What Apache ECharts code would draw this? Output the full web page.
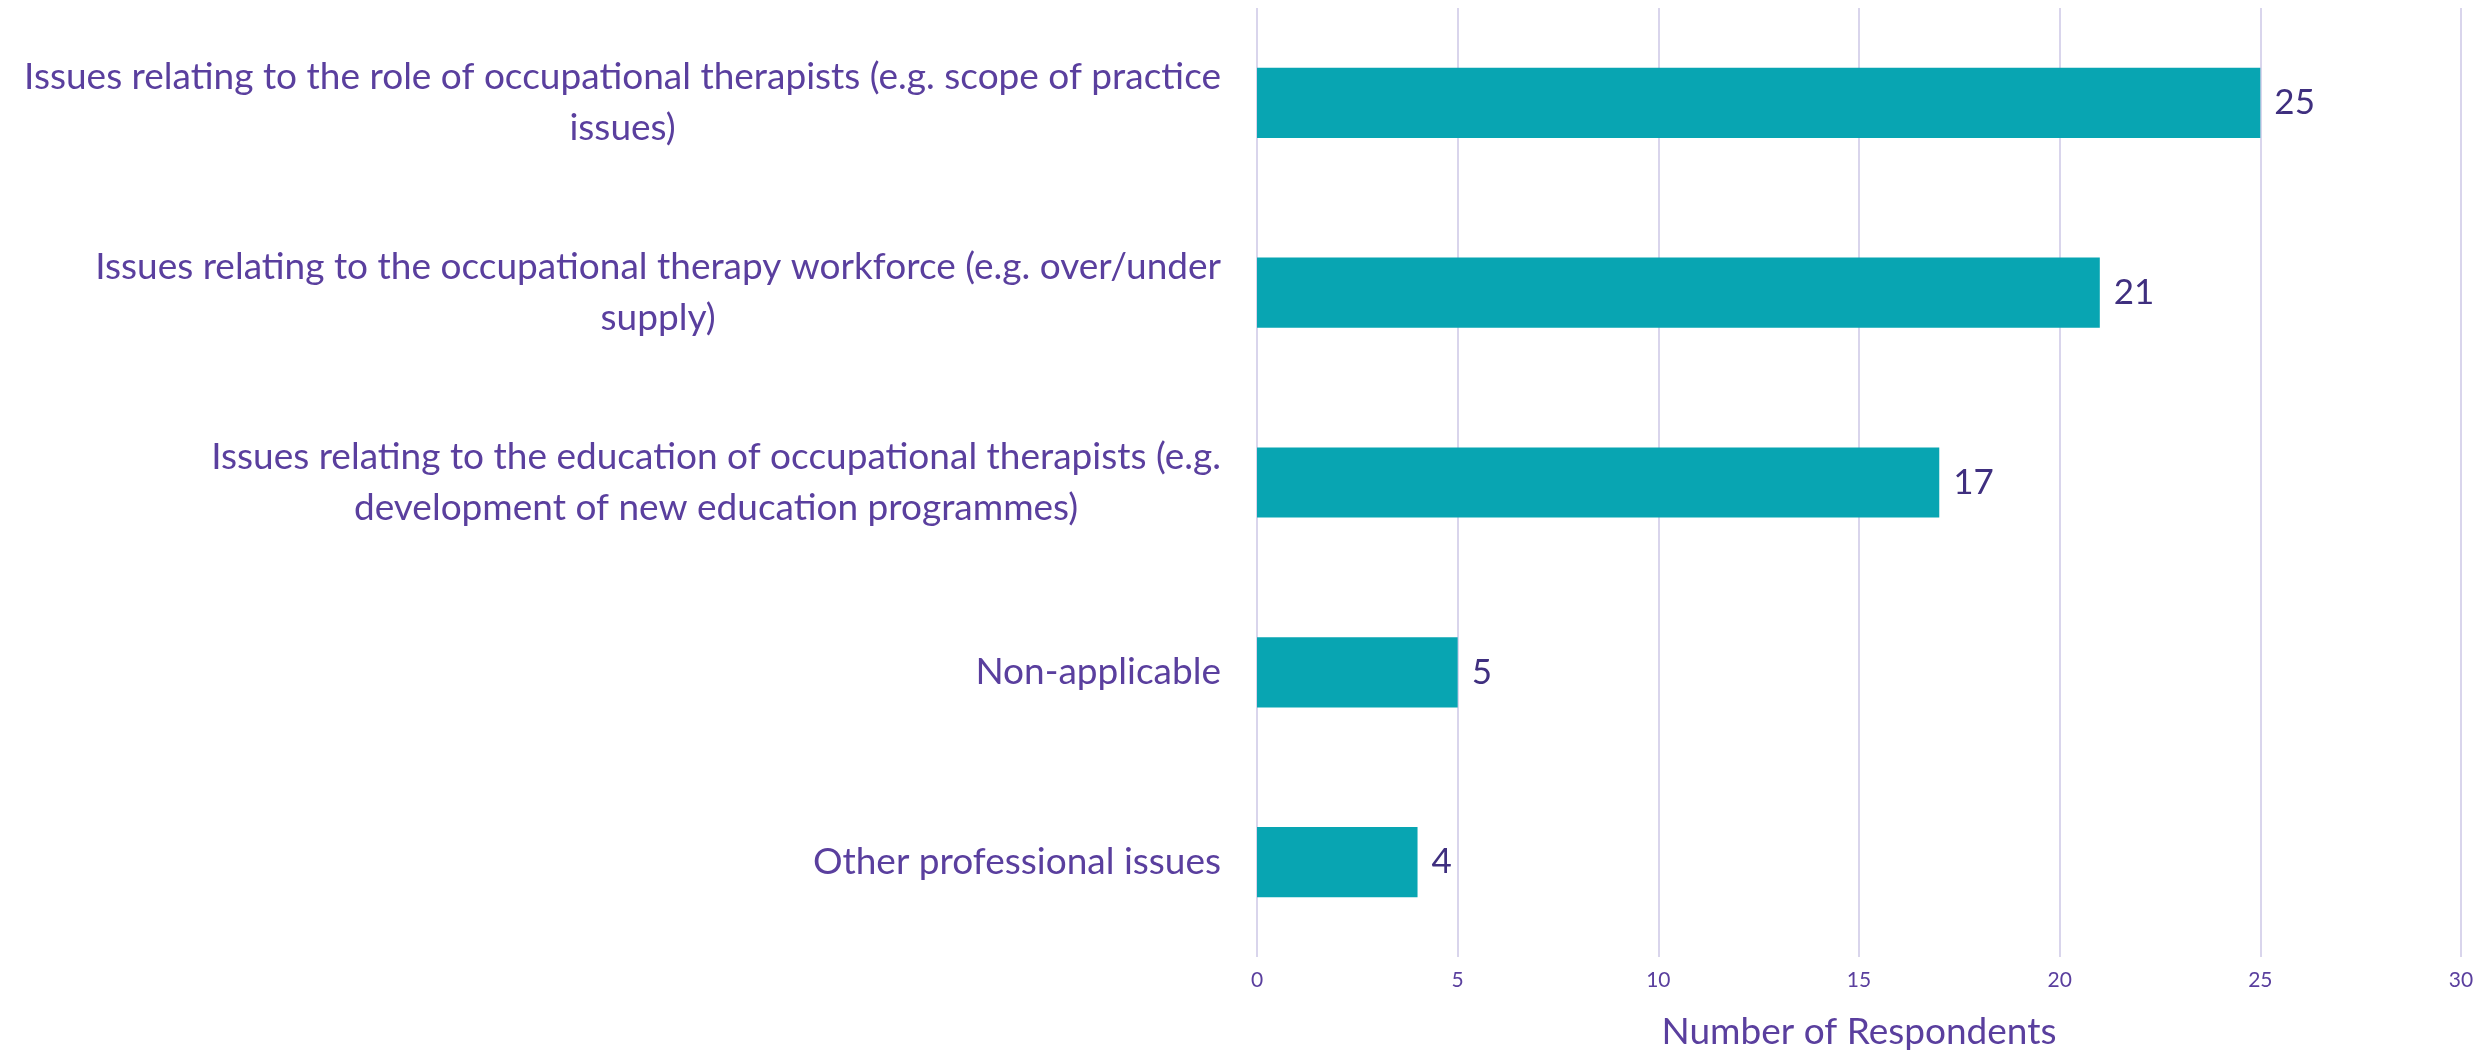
<!DOCTYPE html>
<html>
<head>
<meta charset="utf-8">
<script src="https://cdn.jsdelivr.net/npm/echarts@6/dist/echarts.min.js"></script>
<style>
  html, body { margin: 0; padding: 0; background: #fff; }
  #chart { width: 2483px; height: 1056px; }
</style>
</head>
<body>
<div id="chart"></div>
<script>
// categories, top to bottom (line breaks as in the original labels)
const categories = [
  "Issues relating to the role of occupational therapists (e.g. scope of practice\nissues)",
  "Issues relating to the occupational therapy workforce (e.g. over/under\nsupply)",
  "Issues relating to the education of occupational therapists (e.g.\ndevelopment of new education programmes)",
  "Non-applicable",
  "Other professional issues"
];
const respondents = [25, 21, 17, 5, 4];
const xTicks = { min: 0, max: 30, interval: 5 };

const textFont = "Lato";
const purple = "#5a3f9e";

const chart = echarts.init(document.getElementById("chart"));
chart.setOption({
  animation: false,
  grid: { left: 1257, right: 22, top: 8, bottom: 82 },
  xAxis: {
    type: "value",
    min: xTicks.min,
    max: xTicks.max,
    interval: xTicks.interval,
    name: "Number of Respondents",
    nameLocation: "middle",
    nameGap: 57,
    nameTextStyle: { color: purple, fontSize: 37, fontFamily: textFont },
    axisLine: { show: false },
    axisTick: { show: false },
    axisLabel: { color: purple, fontSize: 21, fontFamily: textFont, margin: 13 },
    splitLine: { lineStyle: { color: "#d9d5ec", width: 2 } }
  },
  yAxis: {
    type: "category",
    inverse: true,
    data: categories,
    axisLine: { show: false },
    axisTick: { show: false },
    axisLabel: {
      margin: 36,
      formatter: function (v) {
        // each line centred inside the right-aligned block
        return v.split("\n").map(function (l) { return "{c|" + l + "}"; }).join("\n");
      },
      rich: {
        c: { align: "center", color: purple, fontSize: 37, fontFamily: textFont, lineHeight: 51 }
      }
    }
  },
  series: [{
    type: "bar",
    data: respondents,
    barWidth: "37%",
    itemStyle: { color: "#08a5b2" },
    label: {
      show: true,
      position: "right",
      distance: 14,
      color: "#3f2f7f",
      fontSize: 35,
      fontFamily: textFont
    }
  }]
});
</script>
</body>
</html>
